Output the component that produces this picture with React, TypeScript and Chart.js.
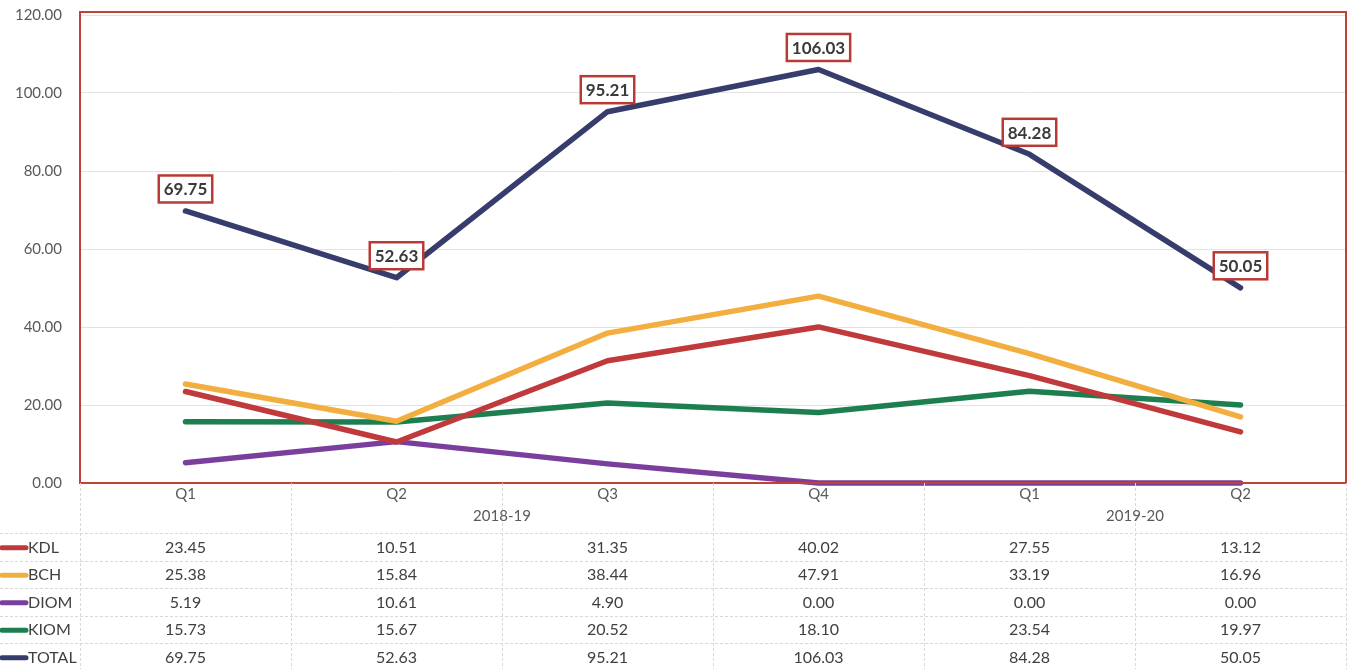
import React, { useEffect, useRef } from "react";
import { Chart, registerables } from "chart.js";

Chart.register(...registerables);

const categories = ["Q1", "Q2", "Q3", "Q4", "Q1", "Q2"];
const yearLabels = ["2018-19", "2019-20"];
const yearSpans = [4, 2];
const seriesNames = ["KDL", "BCH", "DIOM", "KIOM", "TOTAL"];
const kdl = [23.45, 10.51, 31.35, 40.02, 27.55, 13.12];
const bch = [25.38, 15.84, 38.44, 47.91, 33.19, 16.96];
const diom = [5.19, 10.61, 4.9, 0.0, 0.0, 0.0];
const kiom = [15.73, 15.67, 20.52, 18.1, 23.54, 19.97];
const total = [69.75, 52.63, 95.21, 106.03, 84.28, 50.05];
const seriesColors = ["#C0393B", "#F2AE3F", "#7A3F9D", "#1D7F4F", "#363C6B"];

const FONT = "Lato, 'Open Sans', sans-serif";

const tablePlugin = {
  id: "tablePlugin",
  afterDraw(chart: any) {
    const ctx = chart.ctx;
    const a = chart.chartArea;
    const xs = chart.scales.x;
    const ys = chart.scales.y;
    const n = categories.length;
    const colW = (a.right - a.left) / n;
    ctx.save();

    // red plot border
    ctx.strokeStyle = "#C0403A";
    ctx.lineWidth = 2;
    ctx.strokeRect(a.left, a.top - 3, a.right - a.left, a.bottom - a.top + 3);

    // data labels for TOTAL
    ctx.font = "bold 17px " + FONT;
    ctx.textAlign = "center";
    ctx.textBaseline = "middle";
    total.forEach((v, i) => {
      const px = xs.getPixelForValue(i);
      const py = ys.getPixelForValue(v);
      const t = v.toFixed(2);
      const w = ctx.measureText(t).width + 10;
      const h = 27;
      const cx = px;
      const cy = py - 22;
      ctx.fillStyle = "#ffffff";
      ctx.fillRect(cx - w / 2, cy - h / 2, w, h);
      ctx.strokeStyle = "#B83A35";
      ctx.lineWidth = 2.5;
      ctx.strokeRect(cx - w / 2, cy - h / 2, w, h);
      ctx.fillStyle = "#3a3a3a";
      ctx.fillText(t, cx, cy + 1);
    });

    // table grid
    const rowTop = 533;
    const rowH = 27.5;
    ctx.strokeStyle = "#d9d9d9";
    ctx.lineWidth = 1;
    ctx.setLineDash([3, 2]);
    for (let r = 0; r <= seriesNames.length; r++) {
      const y = Math.round(rowTop + r * rowH) + 0.5;
      ctx.beginPath();
      ctx.moveTo(0, y);
      ctx.lineTo(a.right, y);
      ctx.stroke();
    }
    for (let c = 0; c <= n; c++) {
      const x = Math.round(a.left + c * colW) + 0.5;
      ctx.beginPath();
      ctx.moveTo(x, a.bottom);
      ctx.lineTo(x, 669);
      ctx.stroke();
    }
    ctx.setLineDash([]);

    // year labels
    ctx.font = "15px " + FONT;
    ctx.fillStyle = "#595959";
    let start = 0;
    yearLabels.forEach((yl, k) => {
      const span = yearSpans[k];
      const cx = a.left + (start + span / 2) * colW;
      ctx.fillText(yl, cx, 516);
      start += span;
    });

    // rows
    const rows = [kdl, bch, diom, kiom, total];
    rows.forEach((vals, r) => {
      const cy = rowTop + r * rowH + rowH / 2 + 1;
      ctx.strokeStyle = seriesColors[r];
      ctx.lineWidth = 5;
      ctx.lineCap = "round";
      ctx.beginPath();
      ctx.moveTo(2, cy);
      ctx.lineTo(26, cy);
      ctx.stroke();
      ctx.fillStyle = "#404040";
      ctx.font = "16px " + FONT;
      ctx.textAlign = "left";
      ctx.fillText(seriesNames[r], 28, cy);
      ctx.textAlign = "center";
      vals.forEach((v, i) => {
        ctx.fillText(v.toFixed(2), xs.getPixelForValue(i), cy);
      });
    });
    ctx.restore();
  },
};

export default function App() {
  const ref = useRef<HTMLCanvasElement>(null);
  useEffect(() => {
    if (!ref.current) return;
    const data = [kdl, bch, diom, kiom, total];
    const chart = new Chart(ref.current, {
      type: "line",
      data: {
        labels: categories,
        datasets: data.map((d, i) => ({
          label: seriesNames[i],
          data: d,
          borderColor: seriesColors[i],
          backgroundColor: seriesColors[i],
          borderWidth: 5.5,
          pointRadius: 0,
          tension: 0,
          borderCapStyle: "round" as const,
          borderJoinStyle: "round" as const,
          clip: false as any,
        })),
      },
      options: {
        responsive: false,
        animation: false,
        maintainAspectRatio: false,
        layout: { padding: { top: 15, right: 7, bottom: 161, left: 0 } },
        plugins: { legend: { display: false }, tooltip: { enabled: false } },
        scales: {
          x: {
            offset: true,
            grid: { display: false, drawTicks: false },
            border: { display: false },
            ticks: { color: "#595959", font: { family: FONT, size: 15 }, padding: 2 },
            afterFit: (s: any) => {
              s.height = 25;
              s.paddingLeft = 0;
              s.paddingRight = 0;
            },
          },
          y: {
            min: 0,
            max: 120,
            ticks: {
              stepSize: 20,
              color: "#595959",
              font: { family: FONT, size: 15 },
              padding: 18,
              callback: (v: any) => Number(v).toFixed(2),
            },
            grid: { color: "#e3e3e3", drawTicks: false },
            border: { display: false },
            afterFit: (s: any) => {
              s.width = 80;
              s.paddingTop = 0;
              s.paddingBottom = 0;
            },
          },
        },
      },
      plugins: [tablePlugin],
    });
    return () => chart.destroy();
  }, []);
  return (
    <div style={{ position: "fixed", left: 0, top: 0, width: 1353, height: 669, background: "#fff" }}>
      <canvas ref={ref} width={1353} height={669} style={{ width: 1353, height: 669 }} />
    </div>
  );
}
